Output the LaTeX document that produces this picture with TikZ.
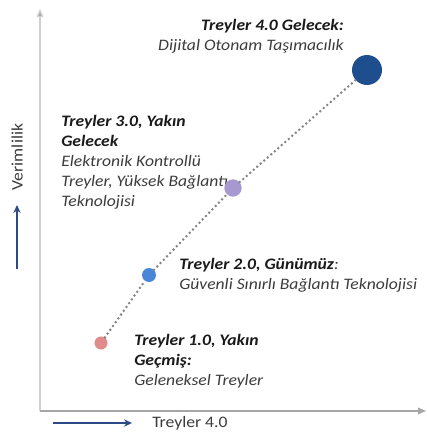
\documentclass[tikz,border=0pt]{standalone}
\usepackage{fontspec}
\setmainfont{Carlito}[FakeStretch=1.1,
  BoldFont={Carlito Bold},
  ItalicFont={Carlito Italic},
  BoldItalicFont={Carlito Bold Italic}]
\usetikzlibrary{arrows.meta}
\definecolor{titlecol}{HTML}{1A1A1A}
\definecolor{desccol}{HTML}{3C3C3C}
\definecolor{axiscol}{HTML}{A6A6A6}
\definecolor{axisvcol}{HTML}{D0D0D0}
\definecolor{navyarrow}{HTML}{2E4A86}
\definecolor{c1}{HTML}{E08C8A}
\definecolor{c2}{HTML}{4A86D8}
\definecolor{c3}{HTML}{A898D0}
\definecolor{c4}{HTML}{1F4E8E}
\definecolor{dotcol}{HTML}{858585}
\begin{document}
\begin{tikzpicture}[x=0.75pt,y=-0.75pt,
  lbl/.style={inner sep=0pt,font=\fontsize{12}{15}\selectfont\itshape,text=desccol},
  dotc/.style={circle,inner sep=0pt,minimum size=#1,draw=none},
  dotline/.style={draw=dotcol,line width=2.1pt,line cap=round,dash pattern=on 0pt off 3.5pt},
  axish/.style={draw=axiscol,line width=0.9pt,-{Triangle[length=6pt,width=5pt]}},
  axisv/.style={draw=axisvcol,line width=0.9pt,-{Triangle[length=6pt,width=5pt,fill=axiscol]}},
  bluearrow/.style={draw=navyarrow,line width=1.8pt,-{Stealth[length=6pt,width=5.5pt]}},
  axislbl/.style={inner sep=0pt,font=\fontsize{12}{14}\selectfont,text=desccol}
]
\useasboundingbox (0,0) rectangle (426,435);
\fill[white] (0,0) rectangle (426,435);

% axes
\coordinate (org) at (40,411);
\coordinate (ytop) at (40,9);
\coordinate (xend) at (426,411);
\draw[axisv] (org) -- (ytop);
\draw[axish] (org) -- (xend);

% axis labels and blue arrows
\node[axislbl,rotate=90] (vl) at (17,157) {Verimlilik};
\coordinate (ua) at (17,269);
\coordinate (ub) at (17,205);
\draw[bluearrow] (ua) -- (ub);
\node[axislbl,anchor=west] (xl) at (152,423) {Treyler 4.0};
\coordinate (ra) at (53,423);
\coordinate (rb) at (132,423);
\draw[bluearrow] (ra) -- (rb);

% labels
\node[lbl,anchor=north east,align=right] (t4) at (344,19)
  {{\bfseries\color{titlecol}Treyler 4.0 Gelecek:}\\Dijital Otonam Taşımacılık};
\node[lbl,anchor=north west,align=left] (t3) at (61,115)
  {{\bfseries\color{titlecol}Treyler 3.0, Yakın}\\{\bfseries\color{titlecol}Gelecek}\\Elektronik Kontrollü\\Treyler, Yüksek Bağlantı\\Teknolojisi};
\node[lbl,anchor=north west,align=left] (t2) at (179,258)
  {{\bfseries\color{titlecol}Treyler 2.0, Günümüz}:\\Güvenli Sınırlı Bağlantı Teknolojisi};
\node[lbl,anchor=north west,align=left] (t1) at (134,334)
  {{\bfseries\color{titlecol}Treyler 1.0, Yakın}\\{\bfseries\color{titlecol}Geçmiş:}\\Geleneksel Treyler};

% points
\node[dotc=9.8pt,fill=c1] (p1) at (101,343) {};
\node[dotc=10.5pt,fill=c2] (p2) at (149,275) {};
\node[dotc=13pt,fill=c3] (p3) at (233,188) {};
\node[dotc=22.5pt,fill=c4] (p4) at (367,70) {};
\draw[dotline] (p1) -- (p2);
\draw[dotline] (p2) -- (p3);
\draw[dotline] (p3) -- (p4);
\end{tikzpicture}
\end{document}
